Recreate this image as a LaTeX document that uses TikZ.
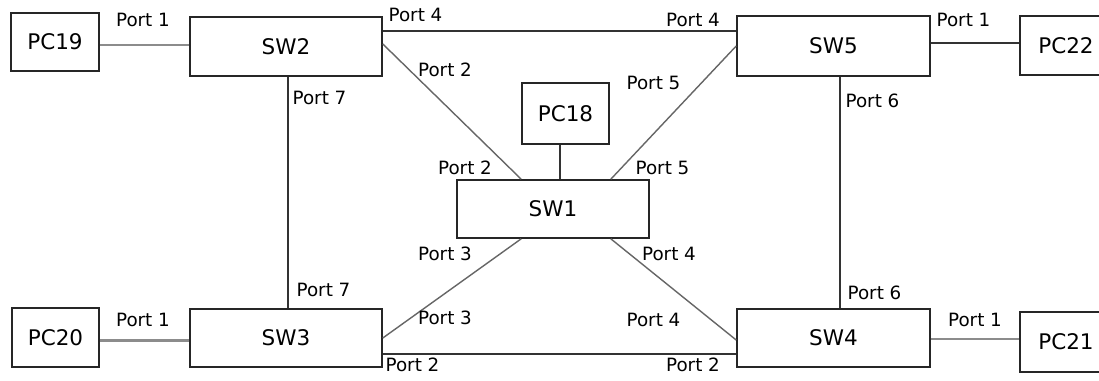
\documentclass[tikz,border=0pt]{standalone}
\usepackage{fontspec}
\setmainfont{DejaVu Sans}
\begin{document}
\begin{tikzpicture}[x=1pt,y=-1pt,
  box/.style={draw=black!85,line width=1.6pt,fill=white,inner sep=0pt,font=\fontsize{21.5}{23}\selectfont},
  plbl/.style={inner sep=0pt,font=\fontsize{18.3}{20}\selectfont},
  pcline/.style={draw=black!45,line width=2.6pt},
  link/.style={draw=black!80,line width=1.5pt},
  diag/.style={draw=black!60,line width=1.4pt}]
\clip (0,0) rectangle (1099,380);
\fill[white] (0,0) rectangle (1099,380);
% boxes
\node[box,minimum width=88pt,minimum height=58pt] (PC19) at (55,42) {PC19};
\node[box,minimum width=192pt,minimum height=59pt] (SW2) at (286,46.5) {SW2};
\node[box,minimum width=193pt,minimum height=60pt] (SW5) at (833.5,46) {SW5};
\node[box,minimum width=92pt,minimum height=59pt] (PC22) at (1066,45.5) {PC22};
\node[box,minimum width=87pt,minimum height=61pt] (PC18) at (565.5,113.5) {PC18};
\node[box,minimum width=192pt,minimum height=58pt] (SW1) at (553,209) {SW1};
\node[box,minimum width=87pt,minimum height=59pt] (PC20) at (55.5,337.5) {PC20};
\node[box,minimum width=192pt,minimum height=58pt] (SW3) at (286,338) {SW3};
\node[box,minimum width=193pt,minimum height=58pt] (SW4) at (833.5,338) {SW4};
\node[box,minimum width=92pt,minimum height=60pt] (PC21) at (1066,342) {PC21};
% connectors
\draw[pcline] ([yshift=1.5pt]SW2.west) -- ([yshift=1.5pt]SW2.west -| PC19.east);
\draw[pcline] ([yshift=-2.5pt]SW3.west) -- ([yshift=-2.5pt]SW3.west -| PC20.east);
\draw[pcline] ([yshift=-1pt]SW4.east) -- ([yshift=-1pt]SW4.east -| PC21.west);
\draw[link] ([yshift=3pt]SW5.east) -- ([yshift=3pt]SW5.east -| PC22.west);
\draw[link] ([yshift=-15pt]SW2.north east) -- ([yshift=-15pt]SW2.north east -| SW5.west);
\draw[link] ([yshift=14pt]SW3.south east) -- ([yshift=14pt]SW3.south east -| SW4.west);
\draw[link] ([xshift=2pt]SW2.south) -- ([xshift=2pt]SW3.north);
\draw[link] ([xshift=6.5pt]SW5.south) -- ([xshift=6.5pt]SW4.north);
\draw[link] ([xshift=-5.5pt]PC18.south) -- ([xshift=-5.5pt]PC18.south |- SW1.north);
\draw[diag] ([yshift=2.5pt]SW2.east) -- ([xshift=65pt]SW1.north west);
\draw[diag] ([xshift=-39pt]SW1.north east) -- (SW5.west);
\draw[diag] ([xshift=65pt]SW1.south west) -- (SW3.east);
\draw[diag] ([xshift=-39pt]SW1.south east) -- ([yshift=-2pt]SW4.west);
% port labels
\node[plbl] (l1) at (143,20) {Port 1};
\node[plbl] (l2) at (319.5,98) {Port 7};
\node[plbl] (l3) at (415.5,15) {Port 4};
\node[plbl] (l4) at (693,20) {Port 4};
\node[plbl] (l5) at (963.5,20) {Port 1};
\node[plbl] (l6) at (872.5,101) {Port 6};
\node[plbl] (l7) at (445,70) {Port 2};
\node[plbl] (l8) at (653.5,83) {Port 5};
\node[plbl] (l9) at (465,168) {Port 2};
\node[plbl] (l10) at (662.5,168) {Port 5};
\node[plbl] (l11) at (445,254) {Port 3};
\node[plbl] (l12) at (669,254) {Port 4};
\node[plbl] (l13) at (445,318) {Port 3};
\node[plbl] (l14) at (653.5,320) {Port 4};
\node[plbl] (l15) at (323.5,290) {Port 7};
\node[plbl] (l16) at (143,320) {Port 1};
\node[plbl] (l17) at (412.5,365) {Port 2};
\node[plbl] (l18) at (693,365) {Port 2};
\node[plbl] (l19) at (874.5,293) {Port 6};
\node[plbl] (l20) at (975,320) {Port 1};
\end{tikzpicture}
\end{document}
